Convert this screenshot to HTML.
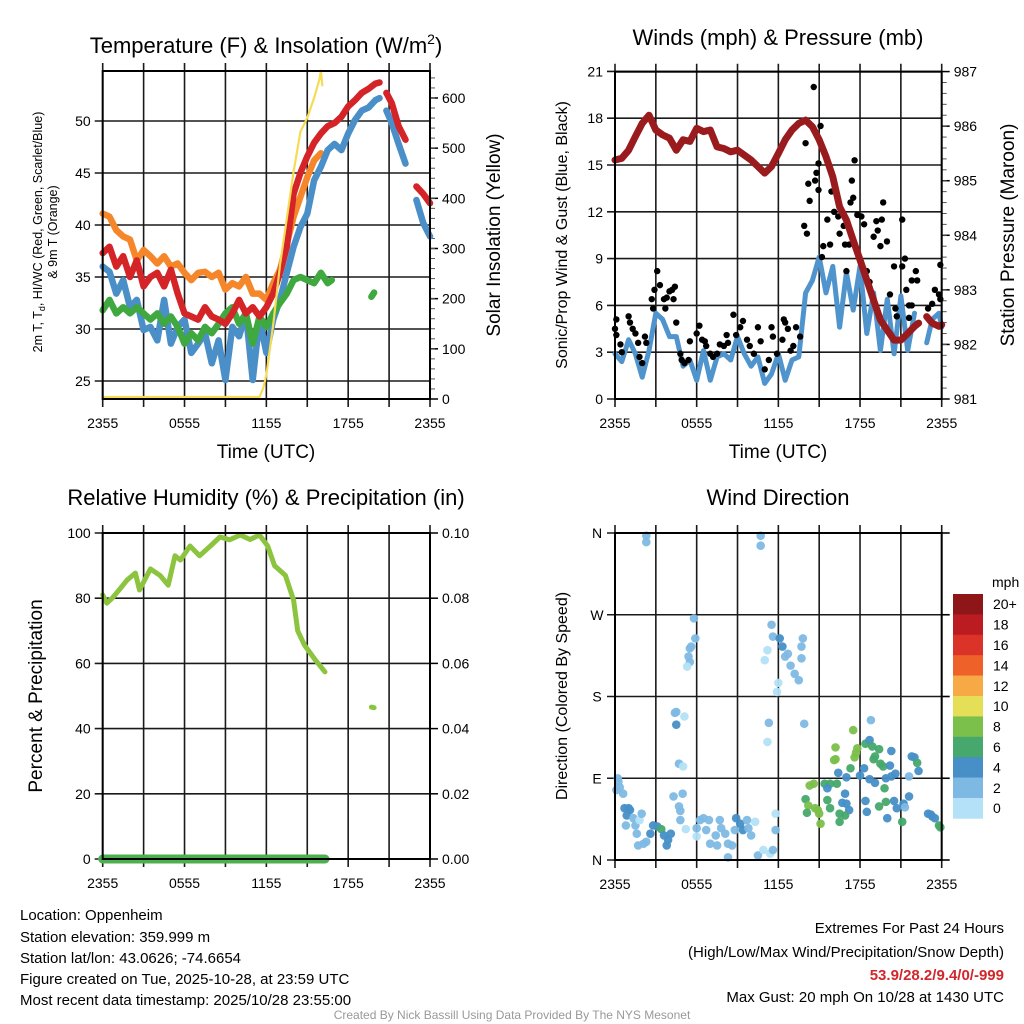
<!DOCTYPE html>
<html><head><meta charset="utf-8"><style>
html,body{margin:0;padding:0;background:#fff;}
svg{display:block;font-family:"Liberation Sans",sans-serif;}
</style></head><body>
<svg id="fig" width="1024" height="1024" viewBox="0 0 1024 1024">
<rect width="1024" height="1024" fill="#fff"/>
<g id="layer"></g>
<text x="266" y="53" font-size="22" text-anchor="middle">Temperature (F) &amp; Insolation (W/m<tspan dy="-9" font-size="14">2</tspan><tspan dy="9">)</tspan></text>
<text x="778" y="45" font-size="22" text-anchor="middle">Winds (mph) &amp; Pressure (mb)</text>
<text x="266" y="505" font-size="22" text-anchor="middle">Relative Humidity (%) &amp; Precipitation (in)</text>
<text x="778" y="505" font-size="22" text-anchor="middle">Wind Direction</text>
<text x="266" y="458" font-size="19" text-anchor="middle">Time (UTC)</text>
<text x="778" y="458" font-size="19" text-anchor="middle">Time (UTC)</text>
<text transform="translate(42,232) rotate(-90)" font-size="12.5" text-anchor="middle">2m T, T<tspan dy="3" font-size="9">d</tspan><tspan dy="-3">, HI/WC (Red, Green, Scarlet/Blue)</tspan></text>
<text transform="translate(57,232) rotate(-90)" font-size="12.5" text-anchor="middle">&amp; 9m T (Orange)</text>
<text transform="translate(500,235) rotate(-90)" font-size="19" text-anchor="middle">Solar Insolation (Yellow)</text>
<text transform="translate(567,235) rotate(-90)" font-size="16" text-anchor="middle">Sonic/Prop Wind &amp; Gust (Blue, Black)</text>
<text transform="translate(1014,235) rotate(-90)" font-size="19" text-anchor="middle">Station Pressure (Maroon)</text>
<text transform="translate(42,696) rotate(-90)" font-size="19" text-anchor="middle">Percent &amp; Precipitation</text>
<text transform="translate(567,696) rotate(-90)" font-size="16" text-anchor="middle">Direction (Colored By Speed)</text>
<g font-size="15">
<text x="20" y="920">Location: Oppenheim</text>
<text x="20" y="942">Station elevation: 359.999 m</text>
<text x="20" y="963">Station lat/lon: 43.0626; -74.6654</text>
<text x="20" y="984">Figure created on Tue, 2025-10-28, at 23:59 UTC</text>
<text x="20" y="1005">Most recent data timestamp: 2025/10/28 23:55:00</text>
</g>
<g font-size="15" text-anchor="end">
<text x="1004" y="933">Extremes For Past 24 Hours</text>
<text x="1004" y="957">(High/Low/Max Wind/Precipitation/Snow Depth)</text>
<text x="1004" y="980" fill="#d0262c" font-weight="bold">53.9/28.2/9.4/0/-999</text>
<text x="1004" y="1002">Max Gust: 20 mph On 10/28 at 1430 UTC</text>
</g>
<text x="512" y="1019" font-size="12" fill="#999" text-anchor="middle">Created By Nick Bassill Using Data Provided By The NYS Mesonet</text>
</svg>
<script>
// ---- data ----
const timeTickLabels = ["2355","0555","1155","1755","2355"];
const tempTicks = [25,30,35,40,45,50];
const insTicks = [0,100,200,300,400,500,600];
const windTicks = [0,3,6,9,12,15,18,21];
const presTicks = [981,982,983,984,985,986,987];
const rhTicks = [0,20,40,60,80,100];
const precipTicks = [0.00,0.02,0.04,0.06,0.08,0.10];
const dirTicks = [0,90,180,270,360];
const dirLabels = ["N","E","S","W","N"];

const redT = [0,0.5,1,1.5,2,2.5,3,3.5,4,4.5,5,5.5,6,6.5,7,7.5,8,8.5,9,9.5,10,10.5,11,11.5,12,12.5,13,13.5,14,14.5,15,15.5,16,16.5,17,17.5,18,18.5,19,19.5,20,20.3,20.5,20.8,21.2,21.7,22.2,22.6,23,23.5,24];
const redV = [37.3,37.9,36,37,35,36.6,34.1,35,35.4,34.1,35.7,33.4,31.5,31.2,30.9,32.1,31.2,30.9,30.5,31.5,32.8,31.5,32.1,31.2,32.1,33.4,35.4,37.9,43,45,46.6,47.9,48.8,49.5,49.8,50.4,51.4,52,52.7,53.1,53.6,53.7,null,52.7,51.7,49.5,48.2,null,43.7,43,42.1];
const blueV = [36,35.5,33.4,34.7,32.1,32.8,29.9,30.2,28.9,32.8,28.6,30.2,30.9,27.7,28.6,29.6,26.7,28.9,25.1,30.2,29.3,31.5,25.1,30.9,27.7,30.9,32.8,35.4,37.9,39.8,41.1,44.3,45.6,47.2,47.8,47.2,48.8,50.1,51,51.3,52,52.2,null,51,49.8,47.8,45.9,null,42.4,40.2,38.9];
const orangeT = [0,0.5,1,1.5,2,2.5,3,3.5,4,4.5,5,5.5,6,6.5,7,7.5,8,8.5,9,9.5,10,10.5,11,11.5,12,12.5,13,13.5,14,14.5,15,15.5,16];
const orangeV = [41.1,40.8,39.5,38.9,38.6,36.6,37.6,37,36.3,37,36,36.3,35.4,34.7,35.4,35.5,35,35.4,33.8,34.4,34.1,35,33.4,33.4,32.8,34.4,35.7,38.2,40.8,42.7,44.6,46.2,46.9];
const greenT = [0,0.5,1,1.5,2,2.5,3,3.5,4,4.5,5,5.5,6,6.5,7,7.5,8,8.5,9,9.5,10,10.5,11,11.5,12,12.5,13,13.5,14,14.5,15,15.5,16,16.5,16.8,18,19.7,19.9];
const greenV = [31.8,32.8,31.5,32.1,31.5,32.1,31.5,30.9,31.5,30.5,31.2,30.2,28.6,29.6,28.9,30.2,29.6,30.5,31.5,32.1,30.5,31.5,28.6,31.2,30.2,31.5,32.5,33.4,34.7,35,34.7,34.4,35.4,34.4,34.7,null,33.1,33.5];
const insT = [0,11.5,11.8,12,12.5,13,13.5,14,14.5,15,15.5,15.9,16,16.1];
const insV = [0,0,20,45,145,265,358,452,532,560,600,638,655,625];

const presT = [0,0.5,1,1.5,2,2.5,3,3.5,4,4.5,5,5.5,6,6.5,7,7.5,8,8.5,9,9.5,10,10.5,11,11.5,12,12.5,13,13.5,14,14.5,15,15.5,16,16.5,17,17.5,18,18.5,19,19.5,20,20.5,21,21.5,22,22.3,22.6,22.9,23.3,23.8,24];
const presV = [985.38,985.41,985.56,985.81,986.05,986.2,985.93,985.84,985.78,985.56,985.75,985.72,985.96,985.9,985.93,985.62,985.59,985.53,985.56,985.47,985.38,985.26,985.14,985.26,985.5,985.75,985.93,986.05,986.11,985.99,985.75,985.44,985.07,984.52,984.28,983.91,983.55,983.18,982.81,982.45,982.26,982.08,982.08,982.2,982.33,982.39,null,982.51,982.39,982.33,982.36];
const windT = [0,0.5,1,1.5,2,2.5,3,3.5,4,4.5,5,5.5,6,6.5,7,7.5,8,8.5,9,9.5,10,10.5,11,11.5,12,12.5,13,13.5,14,14.5,15,15.5,16,16.5,17,17.5,18,18.5,19,19.5,20,20.5,21,21.5,22,22.5,22.9,23.3,23.8,24];
const windV = [2.9,2.4,3.8,2.9,1.4,3.1,5.5,5.1,4,4,2.1,2.5,1.2,3.1,1.2,2.7,2.9,2.5,4,2.9,2.1,2.7,1,1.6,2.9,1.2,2.5,2.7,6.8,7.6,9.1,6.8,8.5,4.6,8.1,5.7,8.5,4.2,6.8,3.1,6.4,2.9,6.6,3.1,5.5,null,3.6,5.1,5.5,4.6];
const gustT = [0,0.1,0.1,0.4,0.5,1,1.1,1.3,1.5,1.7,1.8,2,2.2,2.3,2.7,2.8,2.9,3.1,3.3,3.6,3.7,3.8,4,4.2,4.4,4.3,4.5,4.8,4.9,5.1,5.4,5.5,6,6.2,6.4,6.6,6.7,7,7.2,7.5,7.7,8,8.2,8.3,8.7,8.9,9.2,9.4,9.7,9.9,10.2,10.5,10.7,11,11.3,11.5,11.6,11.9,12.3,12.4,12.5,12.7,12.9,13.1,13.3,13.6,13.9,14.1,14,14.2,14.3,14.6,14.7,14.8,14.95,15.1,14.95,15.2,15.3,15.6,15.8,15.9,16.1,16.4,16.5,16.8,16.9,17,17.2,17.3,17.4,17.5,17.6,17.8,18.1,18.3,18.5,18.7,19,19.2,19.3,19.5,19.6,19.7,19.98,20.2,20.5,20.6,20.7,21.1,21.1,21.3,21.4,21.6,21.8,22.1,22.2,21.8,21.6,23,23.3,23.5,23.8,23.9,23.9];
const gustV = [4.5,5.1,4.1,3.5,3,5.3,4.9,4.5,4.2,3.6,2.7,2.3,4,3.6,6.4,5.8,7,8.2,7.3,6.4,5.8,6.5,6.9,7,7.2,6.4,4.9,2.9,2.5,2.3,2.5,3.7,4.2,4.7,3.8,3.7,3.4,2.9,2.7,2.9,3.5,3.4,4.1,3.6,5.4,4.1,4.6,5,3.8,3.4,2.9,4.6,3.7,1.9,2.5,4.6,4,2.9,3.8,5.1,4.9,4.5,3.1,3.4,4.6,4,11.1,10.6,16.4,13.8,12.7,20,14,14.5,15.1,17.5,13.4,9.1,9.8,11.5,9.9,13.3,12,11.7,10.6,11.1,9.9,8.2,9.9,12.6,14,12.9,15.3,11.8,11.7,11.2,8.2,7.5,10.4,11.4,10.8,9.8,11.5,12.6,10.1,6.7,8.5,5.8,5.3,11.5,8.5,9,7,6,7.6,8.2,7.6,6,5.2,5.8,6.1,7,6.7,8.6,6.4];

const rhT = [0,0.3,0.7,1.3,1.8,2.4,2.7,3.5,4.2,4.8,5.3,5.7,6.4,7.1,7.9,8.6,9.3,10.1,10.8,11.5,12.1,12.6,13.4,14,14.3,14.8,15.6,16.3,18,19.7,19.9];
const rhV = [81,78.5,80,83,85.6,87.7,82.5,89,87,84,93,91.7,96,93,96,98.8,97.9,99.4,98,99.4,96,90,87,79.4,70,65.6,61,57.4,null,46.6,46.4];
const precipT = [0,16.3];
const precipV = [0,0];

const dirT = [2.3,2.3,10.7,10.7,5.8,5.9,5.5,5.6,5.4,5.5,5.3,11.5,11.6,12.1,12.3,11.2,11,12.5,12.7,12.9,13.2,13.5,13.8,13.7,13.7,12,11.9,4.4,4.5,4.5,5.1,11.3,13.9,11.2,4.7,5,18.8,17.5,16.2,16.2,16.1,17.8,17.7,17.6,18.4,18.7,18.9,19.4,19.1,19.0,19.5,19.7,20.3,20.2,20.6,21.8,22,22.2,22.3,21.6,17.3,18.3,18,16.4,17,18.7,19.1,19.9,20.3,14.3,14.6,15.4,15.8,16.3,15.6,16.9,19.8,14,14.2,14.7,15,14.9,14.1,15.1,15.6,15.8,16.7,17,17.2,16.5,16.9,16.5,18.4,18.5,19.4,19.9,20.5,20.7,20,21.1,21.2,21.6,21.3,23,23.3,23.5,23.8,23.9,23.2,0.2,0.25,0.1,0.35,0.6,0.7,1,0.86,1.1,0.8,1.35,1.5,1.8,1.96,1.6,1.7,2.1,2.3,2.6,2.8,3.1,3.4,3.6,3.8,3.9,4.1,4.3,4.97,4.7,4.8,4.8,5.2,6,6.25,6.5,6.9,6,6.7,7.4,7.7,7.8,8.1,7.5,6.99,8.3,8.6,8.3,8.9,9.2,9.4,8.8,9.8,10,10.3,10.5,10.9,11.4,11.6,11.8,11.8,9.7];
const dirV = [357,350,357,346,266,244,233,235,224,218,213,259,246,244,235,231,220,224,227,214,205,198,244,235,222,195,185,162,163,149,158,151,150,130,106,103,154,143,124,111,110,123,118,113,128,132,125,122,114,111,106,103,120,104,95,114,113,107,98,92,101,101,93,96,91,89,85,90,92,82,84,84,84,84,79,73,79,67,60,57,51,55,52,40,66,57,63,62,55,51,49,42,65,53,59,64,65,57,46,42,62,70,58,51,48,46,38,36,50,90,86,77,80,73,57,57,49,55,38,46,38,44,51,29,16,18,20,29,38,37,34,27,16,22,29,70,73,59,54,44,34,35,44,46,44,26,33,27,44,35,29,16,18,18,16,3,46,40,33,33,35,27,42,5,11,7,11,33,51,44];
const dirS = [3,3,3,3,3,3,3,3,3,3,1,3,3,5,5,1,1,3,3,3,3,3,3,3,3,1,1,3,3,5,1,3,3,1,3,1,3,9,9,9,9,9,9,9,7,5,7,7,7,7,7,7,5,5,5,5,5,7,5,3,7,5,5,5,5,5,5,5,5,9,9,7,7,7,5,5,7,7,9,9,9,9,7,9,7,7,5,5,5,7,7,7,5,5,7,7,5,5,5,7,5,5,3,5,5,5,7,7,5,3,3,3,3,3,5,5,5,5,3,3,3,1,3,3,3,3,3,5,5,5,7,5,5,5,5,3,3,3,3,3,1,3,3,3,3,1,3,3,3,3,3,3,3,3,3,3,5,5,5,3,3,3,1,3,1,1,3,3,1,3];
const binLabels = ["20+","18","16","14","12","10","8","6","4","2","0"];
const binColors = ["#8e1518","#bb1c22","#db3328","#ee6129","#f6a944","#e5df58","#7bc04b","#46a86c","#478fc7","#7eb9e4","#b4e1f7"];

// ---- helpers ----
const NS = "http://www.w3.org/2000/svg";
const layer = document.getElementById("layer");
function mk(tag, attrs, parent) {
  const e = document.createElementNS(NS, tag);
  for (const k in attrs) e.setAttribute(k, attrs[k]);
  (parent || layer).appendChild(e);
  return e;
}
function panel(x0, x1, yT, yB) {
  return { x0, x1, yT, yB, x: t => x0 + t * (x1 - x0) / 24 };
}
const P1 = panel(102.7, 430, 71, 399);
const P2 = panel(615, 941.7, 71.7, 399);
const P3 = panel(102.7, 430, 533, 859);
const P4 = panel(615, 941.7, 533, 860);
const y1L = v => 381 - (v - 25) * 10.4;
const y1R = w => 397 - w * 0.4985;
const y2L = v => 399 - v * 15.6;
const y2R = p => 399 - (p - 981) * 54.57;
const y3L = v => 859 - v * 3.26;
const y3R = p => 859 - p * 3260;
const y4 = d => 860 - d * (327 / 360);
const y1Rtick = w => 399 - w * 0.5017;

function grid(P, hTicks, yf, name) {
  const g = mk("g", {});
  
  
  for (let t = 0; t <= 24; t += 3) {
    const l = mk("line", {x1: P.x(t), x2: P.x(t), y1: P.yT - 8, y2: P.yB + 8, stroke: "#1a1a1a", "stroke-width": 1.6}, g);
    
    
  }
  hTicks.forEach(v => {
    const l = mk("line", {x1: P.x0 - 8, x2: P.x1, y1: yf(v), y2: yf(v), stroke: "#1a1a1a", "stroke-width": 1.6}, g);
    
    
  });
  timeTickLabels.forEach((s, i) => {
    const tx = mk("text", {x: P.x(i * 6), y: P.yB + 29, "font-size": 14, "text-anchor": "middle"}, g);
    tx.textContent = s;
    
    
  });
}
function frame(P, name) {
  const r = mk("rect", {x: P.x0, y: P.yT, width: P.x1 - P.x0, height: P.yB - P.yT, fill: "none", stroke: "#000", "stroke-width": 2});
  
  
}
function leftLabels(P, ticks, yf, fmt, name) {
  ticks.forEach(v => {
    const tx = mk("text", {x: P.x0 - 12, y: yf(v) + 5, "font-size": 14, "text-anchor": "end"});
    tx.textContent = fmt(v);
    
    
  });
}
function rightAxis(P, ticks, yf, fmt, minor, name) {
  ticks.forEach(v => {
    mk("line", {x1: P.x1, x2: P.x1 + 8, y1: yf(v), y2: yf(v), stroke: "#000", "stroke-width": 1.5});
    const tx = mk("text", {x: P.x1 + 12, y: yf(v) + 5, "font-size": 14});
    tx.textContent = fmt(v);
    
    
  });
  minor.forEach(v => mk("line", {x1: P.x1, x2: P.x1 + 5, y1: yf(v), y2: yf(v), stroke: "#555", "stroke-width": 1}));
}
function line(P, ts, vs, yf, color, w, name) {
  let d = "", pen = false;
  ts.forEach((t, i) => {
    if (vs[i] === null) { pen = false; return; }
    d += (pen ? "L" : "M") + P.x(t).toFixed(1) + "," + yf(vs[i]).toFixed(1);
    pen = true;
  });
  const p = mk("path", {d, fill: "none", stroke: color, "stroke-width": w, "stroke-linejoin": "round", "stroke-linecap": "round"});
  
  
}

// ---- panel 1 ----
grid(P1, tempTicks, y1L, "temp");
leftLabels(P1, tempTicks, y1L, v => v, "temp");
const ins20 = []; for (let w = 20; w <= 640; w += 20) ins20.push(w);
rightAxis(P1, insTicks, y1Rtick, v => v, ins20, "insolation");
line(P1, orangeT, orangeV, y1L, "#f5862a", 6.5, "temp-9m-orange-line");
line(P1, redT, blueV, y1L, "#4a8fc7", 6.5, "heat-index-windchill-blue-line");
line(P1, greenT, greenV, y1L, "#3fa83f", 6.5, "dewpoint-green-line");
line(P1, redT, redV, y1L, "#d42428", 6.5, "temp-2m-red-line");
line(P1, insT, insV, y1R, "#f6dc55", 2.2, "insolation-yellow-line");
frame(P1, "temp");

// ---- panel 2 ----
grid(P2, windTicks, y2L, "wind");
leftLabels(P2, windTicks, y2L, v => v, "wind");
const pm = []; for (let p = 981.2; p < 987; p += 0.2) pm.push(p);
rightAxis(P2, presTicks, y2R, v => v, pm, "pressure");
line(P2, windT, windV, y2L, "#4f94cc", 5, "sonic-wind-blue-line");
gustT.forEach((t, i) => {
  const c = mk("circle", {cx: P2.x(t), cy: y2L(gustV[i]), r: 3.2, fill: "#000"});
  
  
});
line(P2, presT, presV, y2R, "#9a1b1e", 7, "pressure-maroon-line");
frame(P2, "wind");

// ---- panel 3 ----
grid(P3, rhTicks, y3L, "rh");
leftLabels(P3, rhTicks, y3L, v => v, "rh");
rightAxis(P3, precipTicks, y3R, v => v.toFixed(2), [], "precip");
line(P3, rhT, rhV, y3L, "#8cc43f", 5, "rh-green-line");
line(P3, precipT, precipV, y3R, "#4caf50", 9, "precip-line");
frame(P3, "rh");

// ---- panel 4 ----
grid(P4, dirTicks, y4, "wdir");
dirTicks.forEach((d, i) => {
  mk("line", {x1: P4.x1, x2: P4.x1 + 8, y1: y4(d), y2: y4(d), stroke: "#000", "stroke-width": 1.6});
  const tx = mk("text", {x: P4.x0 - 18, y: y4(d) + 5, "font-size": 14, "text-anchor": "middle"});
  tx.textContent = dirLabels[i];
  
  
});
function binColor(s) {
  let idx = Math.min(10, Math.floor(s / 2));
  return binColors[10 - idx];
}
dirT.forEach((t, i) => {
  const c = mk("circle", {cx: P4.x(t), cy: y4(dirV[i]), r: 4.3, fill: binColor(dirS[i]), opacity: 0.95});
  
  
});
frame(P4, "wdir");
// colorbar
const cb = mk("g", {});


const cbTop = 594, cbH = 20.4;
binColors.forEach((col, i) => {
  mk("rect", {x: 953, y: cbTop + i * cbH, width: 30, height: cbH + 0.3, fill: col}, cb);
  const tx = mk("text", {x: 993, y: cbTop + i * cbH + cbH / 2 + 5, "font-size": 14}, cb);
  tx.textContent = binLabels[i];
  
  
});
const mph = mk("text", {x: 992, y: 587, "font-size": 14}, cb);
mph.textContent = "mph";


</script>
</body></html>
